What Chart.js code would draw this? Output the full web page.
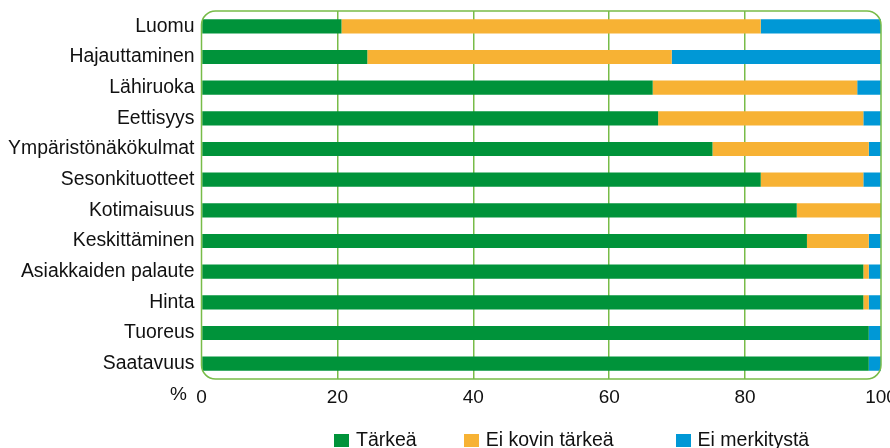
<!DOCTYPE html>
<html>
<head>
<meta charset="utf-8">
<script src="https://cdn.jsdelivr.net/npm/chart.js@4.4.1/dist/chart.umd.min.js"></script>
<style>
    body { margin: 0; background: #fff; font-family: "Liberation Sans", Arial, sans-serif; }
    #wrap { position: relative; width: 890px; height: 448px; }
    #legend { position: absolute; left: 334px; top: 428px; display: flex; font-size: 19.5px; color: #111; }
    #legend .item { display: flex; align-items: center; }
    #legend .box { width: 15px; height: 13px; margin-right: 7px; margin-top: 1px; }
    #legend .item:nth-child(1) { margin-right: 47px; }
    #legend .item:nth-child(2) { margin-right: 62px; }
</style>
</head>
<body>
<div id="wrap">
    <canvas id="chart" width="890" height="448"></canvas>
    <div id="legend"></div>
</div>
<script>
const categories = ['Luomu', 'Hajauttaminen', 'Lähiruoka', 'Eettisyys', 'Ympäristönäkökulmat',
    'Sesonkituotteet', 'Kotimaisuus', 'Keskittäminen', 'Asiakkaiden palaute', 'Hinta', 'Tuoreus', 'Saatavuus'];
const seriesNames = ['Tärkeä', 'Ei kovin tärkeä', 'Ei merkitystä'];
const tarkea       = [20.6, 24.4, 66.4, 67.2, 75.2, 82.3, 87.6, 89.1, 97.4, 97.4, 98.2, 98.2];
const eiKovin      = [61.7, 44.8, 30.1, 30.2, 23.0, 15.1, 12.4,  9.1,  0.8,  0.8,  0.0,  0.0];
const eiMerkitysta = [17.7, 30.8,  3.5,  2.6,  1.8,  2.6,  0.0,  1.8,  1.8,  1.8,  1.8,  1.8];
const xTicks = [0, 20, 40, 60, 80, 100];

const colors = ['#00933a', '#f7b234', '#0098d6'];
const frameColor = '#78bc48';

Chart.defaults.font.family = '"Liberation Sans", Arial, sans-serif';
Chart.defaults.font.size = 19;
Chart.defaults.color = '#111';

// rounded frame around the plot area plus the "%" unit label
const framePlugin = {
    id: 'frame',
    afterDraw(chart) {
        const { ctx, chartArea: a } = chart;
        ctx.save();
        ctx.strokeStyle = frameColor;
        ctx.lineWidth = 1.5;
        ctx.beginPath();
        ctx.roundRect(a.left, a.top, a.right - a.left, a.bottom - a.top, 14);
        ctx.stroke();
        ctx.fillStyle = '#111';
        ctx.font = '19px "Liberation Sans", Arial, sans-serif';
        ctx.textAlign = 'center';
        ctx.textBaseline = 'middle';
        ctx.fillText('%', a.left - 23, a.bottom + 16);
        ctx.restore();
    }
};

const datasets = [tarkea, eiKovin, eiMerkitysta].map((vals, i) => ({
    label: seriesNames[i],
    data: vals,
    backgroundColor: colors[i],
    borderWidth: 0,
    barPercentage: 0.46,
    categoryPercentage: 1
}));

const chart = new Chart(document.getElementById('chart'), {
    type: 'bar',
    data: { labels: categories, datasets },
    options: {
        indexAxis: 'y',
        responsive: false,
        animation: false,
        layout: { padding: { top: 11, right: 9, bottom: 39, left: 0 } },
        plugins: { legend: { display: false }, tooltip: { enabled: false } },
        scales: {
            x: {
                stacked: true,
                min: 0,
                max: 100,
                afterBuildTicks: s => { s.ticks = xTicks.map(v => ({ value: v })); },
                afterFit: s => { s.height = 30; s.paddingLeft = 0; s.paddingRight = 0; },
                grid: {
                    drawTicks: false,
                    lineWidth: 1.5,
                    color: c => (c.tick && (c.tick.value === 0 || c.tick.value === 100)) ? 'rgba(0,0,0,0)' : frameColor
                },
                border: { display: false },
                ticks: { padding: 7, maxRotation: 0, font: { size: 19 } }
            },
            y: {
                stacked: true,
                afterFit: s => { s.width = 201.5; s.paddingTop = 0; s.paddingBottom = 0; },
                grid: { display: false, drawTicks: false },
                border: { display: false },
                ticks: { padding: 7, font: { size: 19.4 } }
            }
        }
    },
    plugins: [framePlugin]
});

// legend drawn as html below the canvas
const legendEl = document.getElementById('legend');
chart.data.datasets.forEach(ds => {
    const item = document.createElement('div');
    item.className = 'item';
    item.innerHTML = `<span class="box" style="background:${ds.backgroundColor}"></span><span>${ds.label}</span>`;
    legendEl.appendChild(item);
});
</script>
</body>
</html>
